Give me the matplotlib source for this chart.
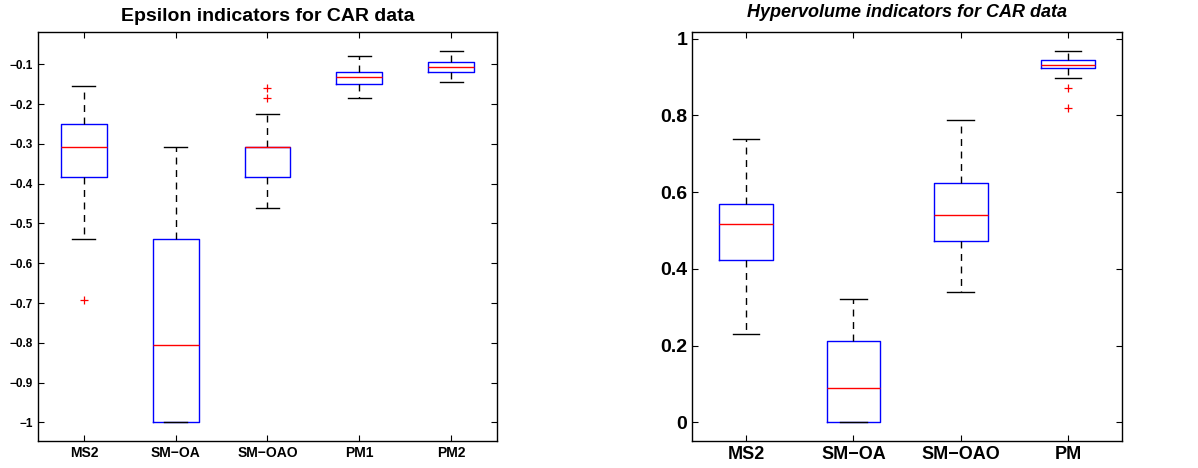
import matplotlib
matplotlib.use("Agg")
import matplotlib.pyplot as plt

# Left panel: Epsilon indicators
eps_labels = ["MS2", "SM\u2212OA", "SM\u2212OAO", "PM1", "PM2"]
eps_whishi = [-0.154, -0.307, -0.224, -0.080, -0.067]
eps_q3 = [-0.250, -0.538, -0.307, -0.1185, -0.0935]
eps_med = [-0.307, -0.806, -0.307, -0.132, -0.107]
eps_q1 = [-0.384, -1.000, -0.384, -0.149, -0.1185]
eps_whislo = [-0.538, -1.000, -0.462, -0.185, -0.144]
eps_fliers = [[-0.692], [], [-0.159, -0.185], [], []]

# Right panel: Hypervolume indicators
hv_labels = ["MS2", "SM\u2212OA", "SM\u2212OAO", "PM"]
hv_whishi = [0.738, 0.322, 0.789, 0.968]
hv_q3 = [0.568, 0.212, 0.623, 0.945]
hv_med = [0.516, 0.089, 0.540, 0.931]
hv_q1 = [0.423, 0.000, 0.473, 0.924]
hv_whislo = [0.230, 0.000, 0.340, 0.897]
hv_fliers = [[], [], [], [0.870, 0.819]]

eps_yticks = [-1, -0.9, -0.8, -0.7, -0.6, -0.5, -0.4, -0.3, -0.2, -0.1]
eps_yticklabels = ["\u22121", "\u22120.9", "\u22120.8", "\u22120.7", "\u22120.6",
                   "\u22120.5", "\u22120.4", "\u22120.3", "\u22120.2", "\u22120.1"]
hv_yticks = [0, 0.2, 0.4, 0.6, 0.8, 1]
hv_yticklabels = ["0", "0.2", "0.4", "0.6", "0.8", "1"]

plt.rcParams['font.family'] = ['Liberation Sans', 'DejaVu Sans']

fig = plt.figure(figsize=(11.98, 4.68), dpi=100)
ax1 = fig.add_axes([0.0317, 0.0583, 0.3831, 0.8733])
ax2 = fig.add_axes([0.5779, 0.0583, 0.3584, 0.8733])


def make_stats(labels, lo, q1, med, q3, hi, fl):
    return [dict(label=l, whislo=a, q1=b, med=c, q3=d, whishi=e, fliers=f)
            for l, a, b, c, d, e, f in zip(labels, lo, q1, med, q3, hi, fl)]


def draw(ax, stats):
    ax.bxp(stats, widths=0.5, showfliers=True,
           boxprops=dict(color='blue', linewidth=1.0),
           medianprops=dict(color='red', linewidth=1.0),
           whiskerprops=dict(color='black', linestyle=(0, (5, 4)), linewidth=1.0),
           capprops=dict(color='black', linewidth=1.0),
           capwidths=0.25,
           flierprops=dict(marker='+', markeredgecolor='red', markersize=6,
                           markeredgewidth=0.9, linestyle='none'))
    ax.tick_params(direction='in', top=True, right=True, length=4, width=0.8)
    for s in ax.spines.values():
        s.set_linewidth(1.0)


draw(ax1, make_stats(eps_labels, eps_whislo, eps_q1, eps_med, eps_q3, eps_whishi, eps_fliers))
ax1.set_xlim(0.5, 5.5)
ax1.set_ylim(-1.046, -0.019)
ax1.set_yticks(eps_yticks)
ax1.set_yticklabels(eps_yticklabels, fontsize=8.5, fontweight='bold')
ax1.set_xticklabels(eps_labels, fontsize=10, fontweight='bold')
ax1.set_title("Epsilon indicators for CAR data", fontsize=14, fontweight='bold', pad=8)

draw(ax2, make_stats(hv_labels, hv_whislo, hv_q1, hv_med, hv_q3, hv_whishi, hv_fliers))
ax2.set_xlim(0.5, 4.5)
ax2.set_ylim(-0.048, 1.017)
ax2.set_yticks(hv_yticks)
ax2.set_yticklabels(hv_yticklabels, fontsize=14, fontweight='bold')
ax2.set_xticklabels(hv_labels, fontsize=13, fontweight='bold')
ax2.set_title("Hypervolume indicators for CAR data", fontsize=13, fontweight='bold',
              fontstyle='italic', pad=11)

fig.savefig("out.png", dpi=100)
